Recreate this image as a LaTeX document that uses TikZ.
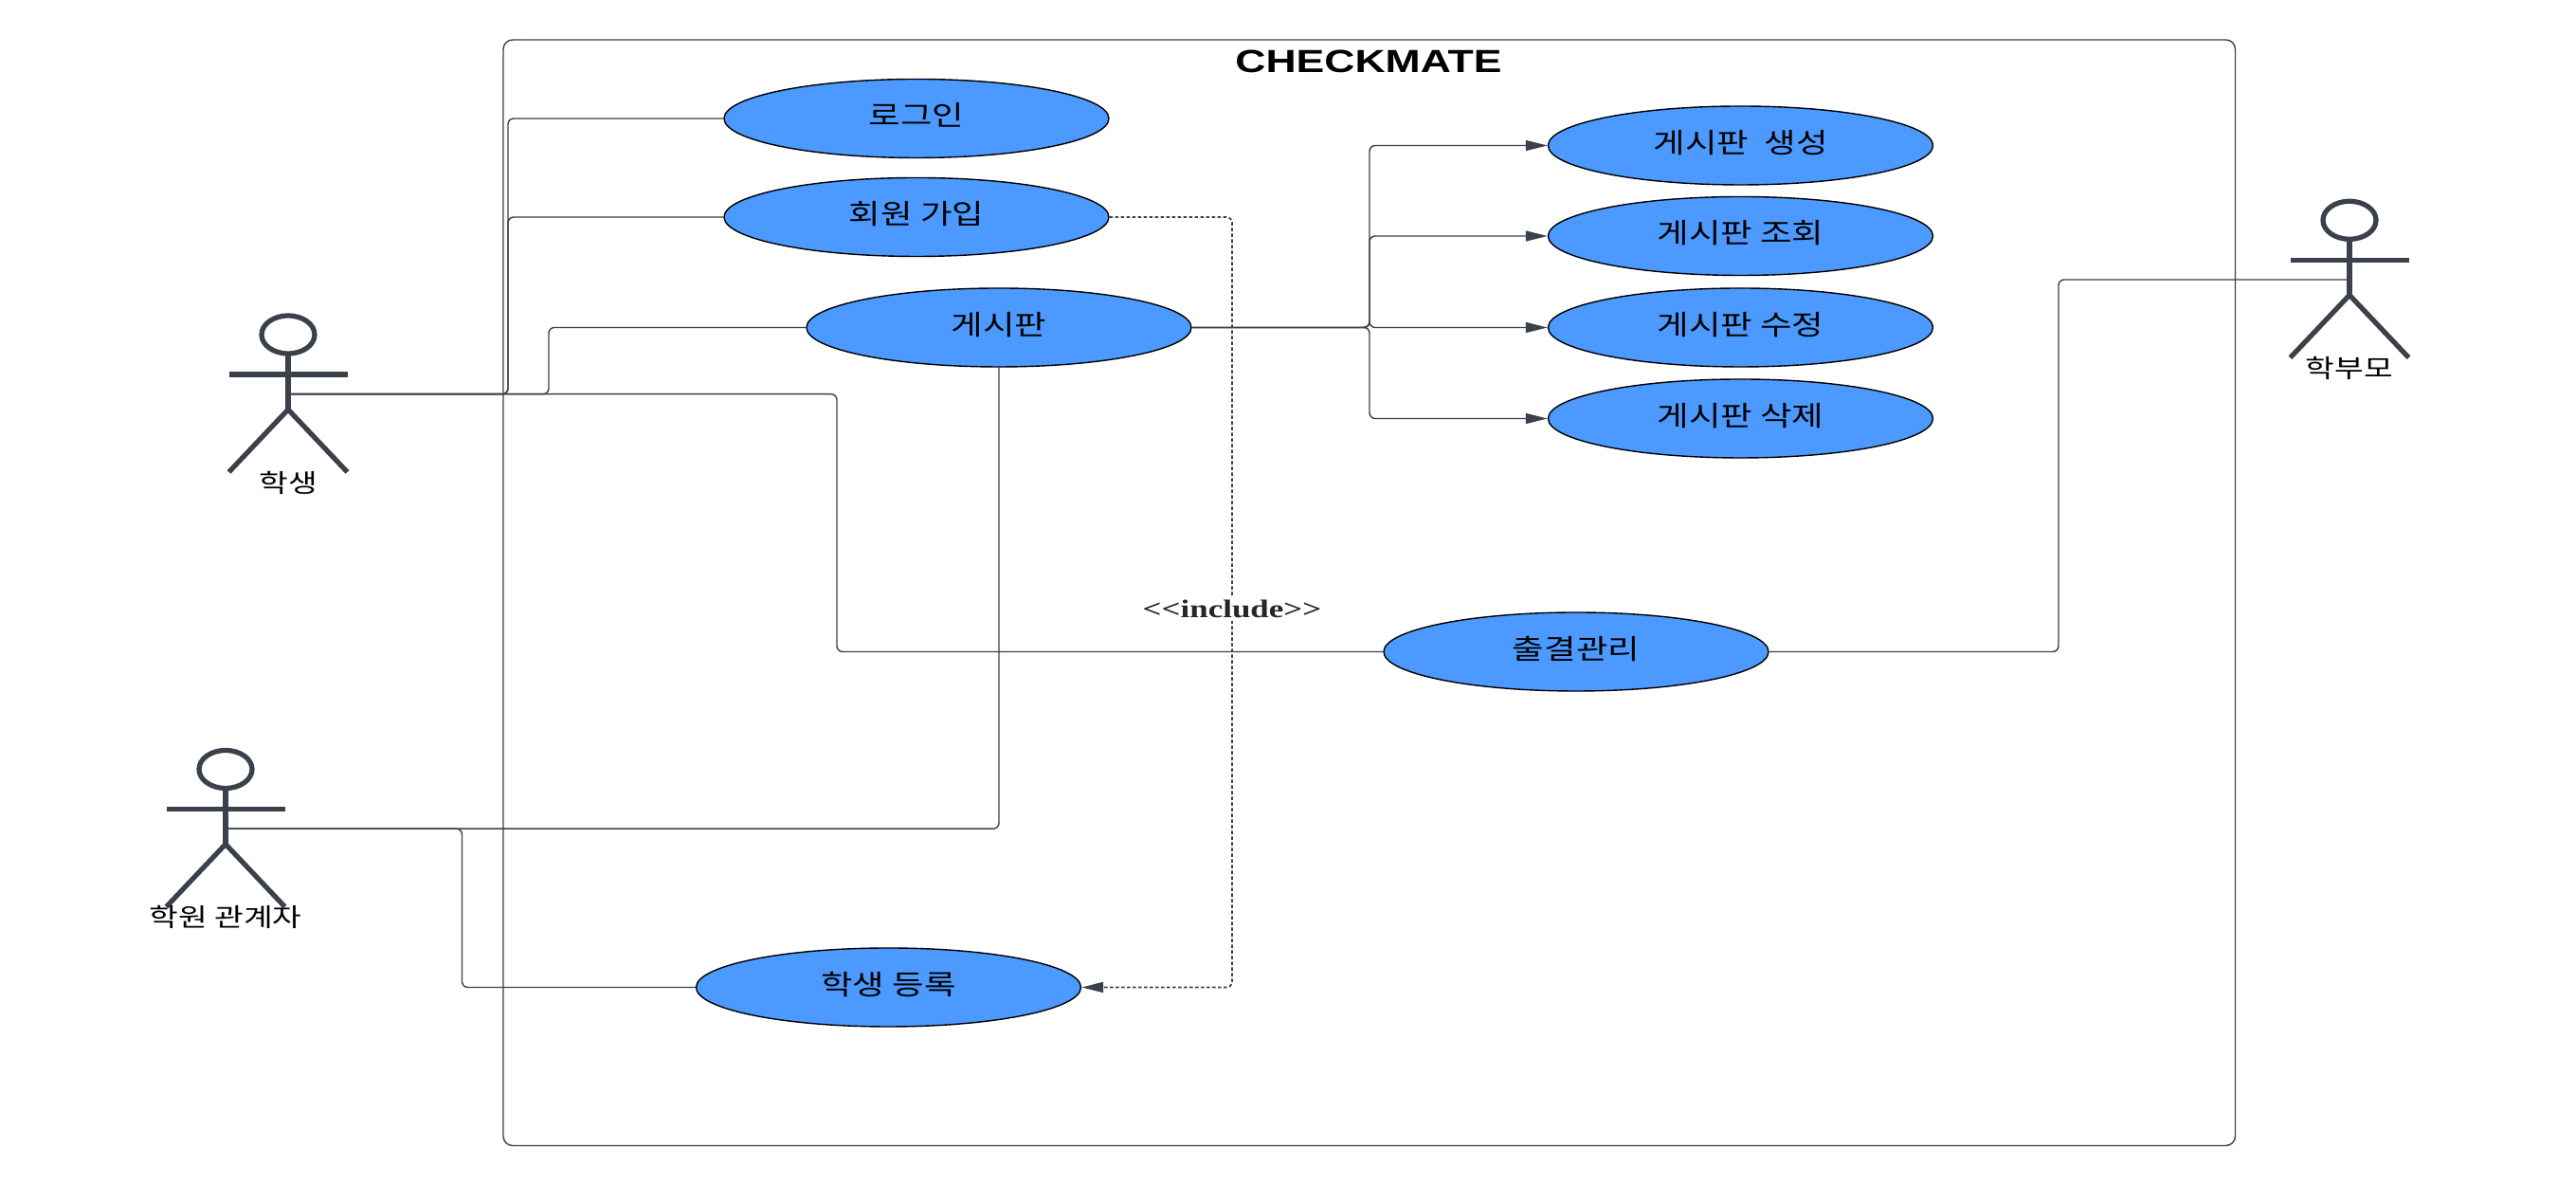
\documentclass[tikz,border=0pt]{standalone}
\usepackage{fontspec}
\setmainfont{Liberation Serif}
\newfontfamily\krfont[FakeStretch=1.25]{Noto Sans CJK KR}
\newfontfamily\titlefont[FakeStretch=1.32]{Liberation Sans}
\newfontfamily\stereofont[FakeStretch=1.31]{Liberation Serif}
\usetikzlibrary{arrows.meta,shapes.geometric}
\definecolor{usecase}{HTML}{4C9AFF}
\definecolor{ink}{HTML}{3A414A}
\tikzset{
  case/.style={ellipse, draw=black, line width=.4pt, fill=usecase, minimum width=4.06cm, minimum height=.83cm, inner sep=0pt, text depth=.09cm, font=\krfont\fontsize{8.3}{9}\selectfont},
  link/.style={draw=ink, line width=.4pt, rounded corners=.06cm},
  tip/.style={-{Triangle[length=.23cm,width=.11cm]}},
  actor/.pic={
    \draw [ink, line width=1.5pt] (0,0) ellipse (.28 and .2);
    \draw [ink, line width=1.5pt] (0,-.21) -- (0,-.79) (-.625,-.42) -- (.625,-.42);
    \draw [ink, line width=1.5pt] (-.625,-1.45) -- (0,-.79) -- (.625,-1.45);
    \coordinate (-hip) at (.03,-.627);
    \node (-name) at (0,-1.56) {\krfont\fontsize{7.6}{9}\selectfont #1};
  }
}

\begin{document}
\begin{tikzpicture}
    \useasboundingbox (0,0) rectangle (27.18,12.5);
    \draw [ink, line width=.4pt, rounded corners=.1cm] (5.31,.415) rectangle (23.585,12.08);
    \node (title) at (14.44,11.85) {\titlefont\bfseries\fontsize{9.6}{11}\selectfont CHECKMATE};

    \node [case] (login) at (9.67,11.25) {로그인};
    \node [case] (signup) at (9.67,10.21) {회원 가입};
    \node [case] (board) at (10.54,9.045) {게시판};
    \node [case] (create) at (18.365,10.965) {게시판\ \ 생성};
    \node [case] (read) at (18.365,10.01) {게시판 조회};
    \node [case] (edit) at (18.365,9.045) {게시판 수정};
    \node [case] (del) at (18.365,8.085) {게시판 삭제};
    \node [case] (attend) at (16.63,5.625) {출결관리};
    \node [case] (enroll) at (9.375,2.085) {학생 등록};

    \pic (student) at (3.04,8.97) {actor={학생}};
    \pic (staff) at (2.38,4.385) {actor={학원 관계자}};
    \pic (parent) at (24.79,10.177) {actor={학부모}};

    \coordinate (trunk) at (5.36,0);
    \coordinate (riser) at (5.79,0);
    \coordinate (drop) at (8.83,0);
    \coordinate (branch) at (14.45,0);
    \coordinate (spine) at (4.875,0);
    \coordinate (rail) at (21.72,0);
    \coordinate (incl) at (13,0);

    \draw [link] (student-hip) -| (trunk |- login) -- (login);
    \draw [link] (student-hip) -| (trunk |- signup) -- (signup);
    \draw [link] (student-hip) -| (riser |- board) -- (board);
    \draw [link] (student-hip) -| (drop |- attend) -- (attend);
    \draw [link] (staff-hip) -| (board);
    \draw [link] (staff-hip) -| (spine |- enroll) -- (enroll);
    \draw [link] (parent-hip) -| (rail |- attend) -- (attend);
    \foreach \target in {create,read,edit,del}
      \draw [link, tip] (board) -| (branch |- \target) -- (\target);
    \draw [link, tip, line width=.5pt, dash pattern=on .035cm off .025cm] (signup) -| (incl |- enroll) -- (enroll);

    \node [fill=white, inner sep=1pt, text=black!85] (include) at (13,6.08) {\stereofont\bfseries\fontsize{7.6}{9}\selectfont <<include>>};
  \end{tikzpicture}
\end{document}
